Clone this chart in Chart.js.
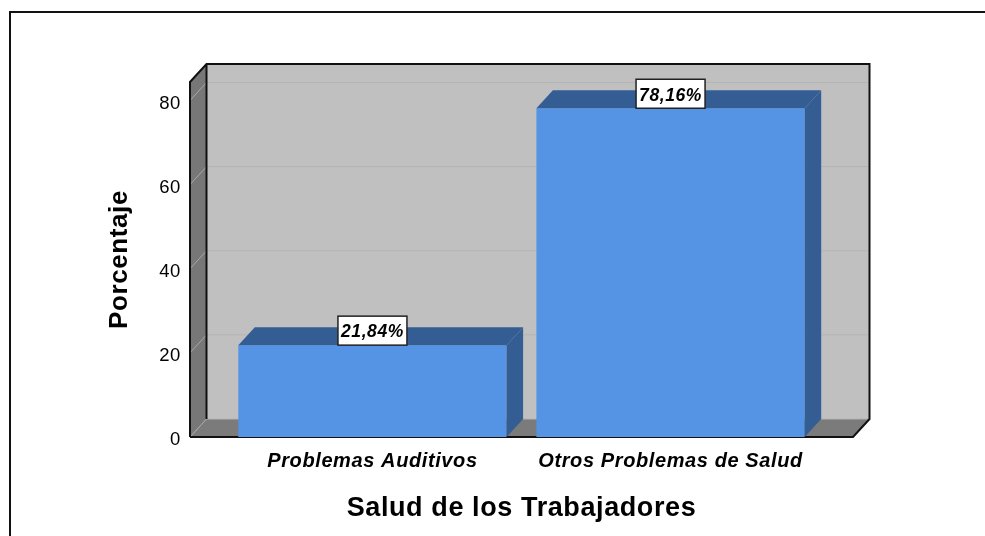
<!DOCTYPE html>
<html>
<head>
<meta charset="utf-8">
<style>
    html, body { margin: 0; padding: 0; background: #fff; }
    canvas { display: block; }
</style>
<script src="https://cdn.jsdelivr.net/npm/chart.js@4/dist/chart.umd.js"></script>
</head>
<body>
<canvas id="saludChart" width="985" height="536"></canvas>
<script>
const categories = ['Problemas Auditivos', 'Otros Problemas de Salud'];
const porcentajes = [21.84, 78.16];
const axisTitleX = 'Salud de los Trabajadores';
const axisTitleY = 'Porcentaje';

const depthX = 16.5;
const depthY = 18;
const textSpacing = '0.6px';

function pct(v) {
    return v.toFixed(2).replace('.', ',') + '%';
}

/*page frame + the 3d box behind the bars*/
const boxPlugin = {
    id: 'box3d',
    // the original text runs wide, chart.js has no option for it
    beforeUpdate(chart) {
        chart.ctx.letterSpacing = textSpacing;
    },
    beforeDraw(chart) {
        chart.ctx.letterSpacing = textSpacing;
    },
    beforeDatasetsDraw(chart) {
        const ctx = chart.ctx;
        const a = chart.chartArea;
        const y = chart.scales.y;

        ctx.save();
        // frame of the original image
        ctx.fillStyle = '#111';
        ctx.fillRect(9, 11, 976, 2);
        ctx.fillRect(9, 11, 2, 525);

        // back wall
        ctx.fillStyle = '#c0c0c0';
        ctx.fillRect(a.left + depthX, a.top - depthY, a.width, a.height);

        // left wall
        ctx.fillStyle = '#777777';
        ctx.beginPath();
        ctx.moveTo(a.left, a.top);
        ctx.lineTo(a.left + depthX, a.top - depthY);
        ctx.lineTo(a.left + depthX, a.bottom - depthY);
        ctx.lineTo(a.left, a.bottom);
        ctx.closePath();
        ctx.fill();

        // floor
        ctx.fillStyle = '#7b7b7b';
        ctx.beginPath();
        ctx.moveTo(a.left, a.bottom);
        ctx.lineTo(a.left + depthX, a.bottom - depthY);
        ctx.lineTo(a.right + depthX, a.bottom - depthY);
        ctx.lineTo(a.right, a.bottom);
        ctx.closePath();
        ctx.fill();

        // grid lines, back wall and left wall
        ctx.lineWidth = 1;
        y.ticks.forEach((t) => {
            const py = y.getPixelForValue(t.value);
            ctx.strokeStyle = '#b4b4b4';
            ctx.beginPath();
            ctx.moveTo(a.left + depthX, py - depthY);
            ctx.lineTo(a.right + depthX, py - depthY);
            ctx.stroke();
            ctx.strokeStyle = '#a8a8a8';
            ctx.beginPath();
            ctx.moveTo(a.left, py);
            ctx.lineTo(a.left + depthX, py - depthY);
            ctx.stroke();
        });

        // outline
        ctx.strokeStyle = '#111';
        ctx.lineWidth = 2;
        ctx.beginPath();
        ctx.moveTo(a.left, a.bottom);
        ctx.lineTo(a.left, a.top);
        ctx.lineTo(a.left + depthX, a.top - depthY);
        ctx.lineTo(a.right + depthX, a.top - depthY);
        ctx.lineTo(a.right + depthX, a.bottom - depthY);
        ctx.lineTo(a.right, a.bottom);
        ctx.lineTo(a.left, a.bottom);
        ctx.moveTo(a.left + depthX, a.top - depthY);
        ctx.lineTo(a.left + depthX, a.bottom - depthY);
        ctx.stroke();
        ctx.restore();
    },
    afterDatasetsDraw(chart) {
        const ctx = chart.ctx;
        const bars = chart.getDatasetMeta(0).data;

        ctx.save();
        bars.forEach((bar, i) => {
            const left = bar.x - bar.width / 2;
            const right = bar.x + bar.width / 2;

            // top face
            ctx.fillStyle = '#345e93';
            ctx.beginPath();
            ctx.moveTo(left, bar.y);
            ctx.lineTo(left + depthX, bar.y - depthY);
            ctx.lineTo(right + depthX, bar.y - depthY);
            ctx.lineTo(right, bar.y);
            ctx.closePath();
            ctx.fill();

            // side face
            ctx.beginPath();
            ctx.moveTo(right, bar.y);
            ctx.lineTo(right + depthX, bar.y - depthY);
            ctx.lineTo(right + depthX, bar.base - depthY);
            ctx.lineTo(right, bar.base);
            ctx.closePath();
            ctx.fill();

            // value label
            const text = pct(porcentajes[i]);
            ctx.font = 'italic bold 17.5px "Liberation Sans"';
            const w = 69;
            const h = 29;
            const bx = bar.x - w / 2;
            const by = bar.y - h;
            ctx.fillStyle = '#fff';
            ctx.fillRect(bx, by, w, h);
            ctx.strokeStyle = '#222';
            ctx.lineWidth = 1.5;
            ctx.strokeRect(bx, by, w, h);
            ctx.fillStyle = '#000';
            ctx.textAlign = 'center';
            ctx.textBaseline = 'middle';
            ctx.fillText(text, bar.x, by + h / 2 + 2);
        });
        ctx.restore();
    }
};

new Chart(document.getElementById('saludChart'), {
    type: 'bar',
    data: {
        datasets: [{
            data: porcentajes.map((v, i) => ({ x: i, y: v })),
            backgroundColor: '#5594e5',
            barPercentage: 0.9,
            categoryPercentage: 1
        }]
    },
    plugins: [boxPlugin],
    options: {
        responsive: false,
        animation: false,
        layout: { padding: { left: 0, top: 82, right: 132, bottom: 0 } },
        plugins: {
            legend: { display: false },
            tooltip: { enabled: false }
        },
        scales: {
            x: {
                type: 'linear',
                offset: false,
                min: -0.612,
                max: 1.612,
                grid: { display: false },
                border: { display: false },
                afterBuildTicks(axis) {
                    axis.ticks = categories.map((c, i) => ({ value: i }));
                },
                afterFit(axis) { axis.height = 99; },
                ticks: {
                    autoSkip: false,
                    maxRotation: 0,
                    padding: 4,
                    color: '#000',
                    font: { family: '"Liberation Sans"', size: 20, style: 'italic', weight: 'bold' },
                    callback: (v) => categories[v]
                },
                title: {
                    display: true,
                    text: axisTitleX,
                    color: '#000',
                    padding: { top: 0, bottom: 11 },
                    font: { family: '"Liberation Sans"', size: 27, weight: 'bold' }
                }
            },
            y: {
                min: 0,
                max: 84.4,
                grid: { display: false },
                border: { display: false },
                afterFit(axis) { axis.width = 190; },
                ticks: {
                    stepSize: 20,
                    includeBounds: false,
                    padding: 1,
                    labelOffset: 3,
                    color: '#000',
                    font: { family: '"Liberation Sans"', size: 18.5 }
                },
                title: {
                    display: true,
                    text: axisTitleY,
                    color: '#000',
                    padding: { top: 104, bottom: 0 },
                    font: { family: '"Liberation Sans"', size: 26, weight: 'bold' }
                }
            }
        }
    }
});
</script>
</body>
</html>
